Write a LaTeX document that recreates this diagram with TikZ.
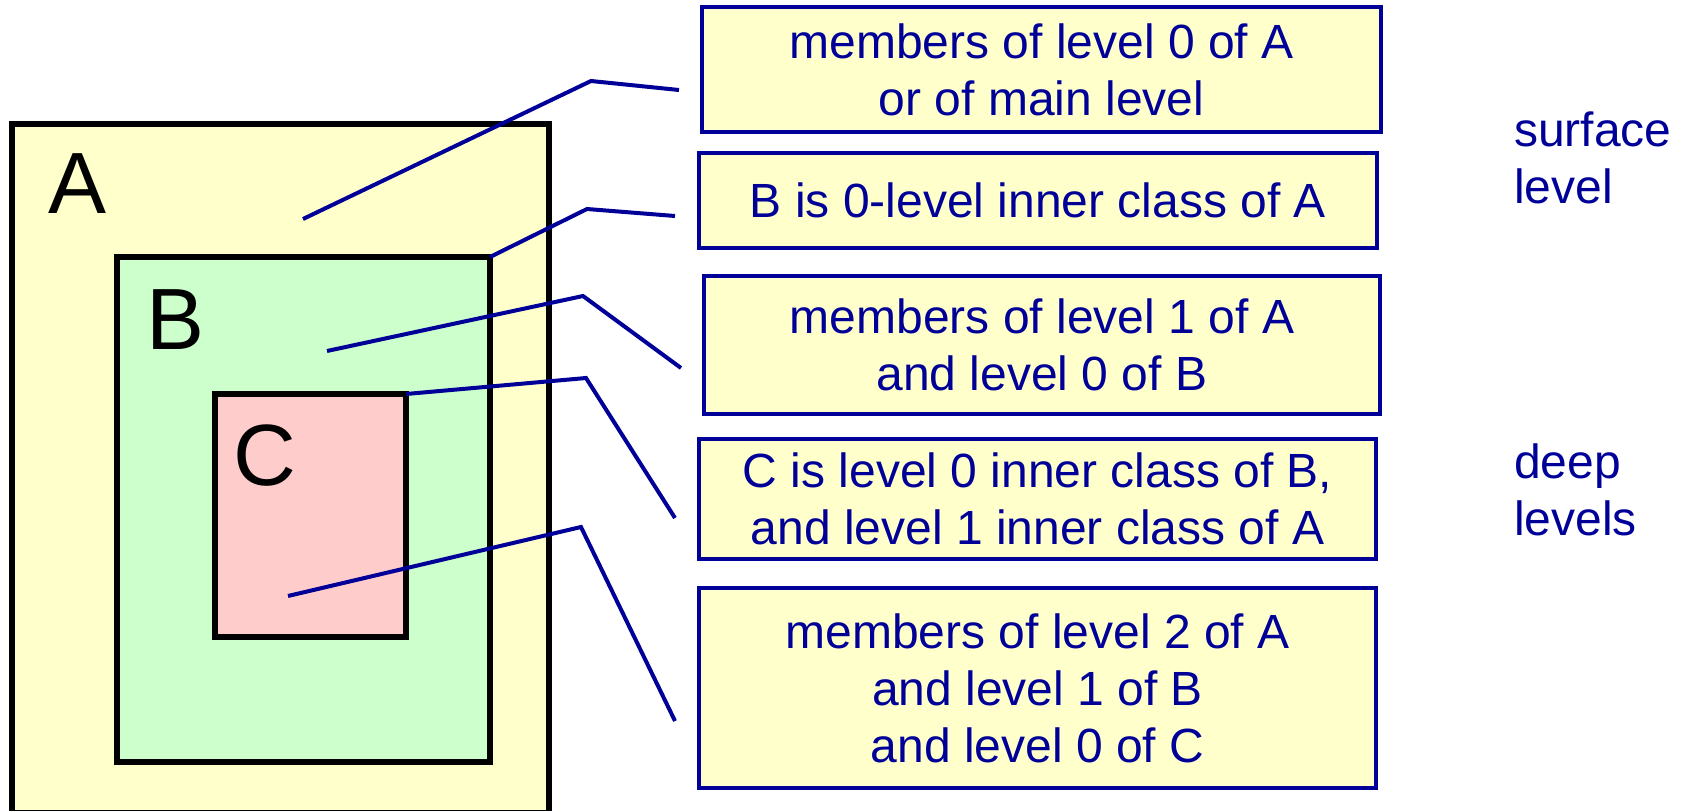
\documentclass[tikz,border=0pt]{standalone}
\usepackage{fontspec}
\setmainfont{Liberation Sans}
\definecolor{navy}{HTML}{000099}
\definecolor{paleyellow}{HTML}{FFFFCC}
\definecolor{palegreen}{HTML}{CCFFCC}
\definecolor{palepink}{HTML}{FFCCCC}

\begin{document}
\begin{tikzpicture}[x=1pt,y=-1pt]
\tikzstyle{region}=[draw,line width=6pt,inner sep=0,outer sep=0]
\tikzstyle{letter}=[inner sep=0,font=\fontsize{87}{87}\selectfont]
\tikzstyle{note}=[draw=navy,fill=paleyellow,line width=4pt,text=navy,align=center,inner sep=0,font=\fontsize{48}{57}\selectfont]
\tikzstyle{side}=[text=navy,align=left,anchor=west,inner sep=0,font=\fontsize{48}{57}\selectfont]
\tikzstyle{lead}=[draw=navy,line width=4pt]
\useasboundingbox (0,0) rectangle (1684,811);
% ========= nested classes
\node (A) at (280.5,468.5) [region,fill=paleyellow,minimum width=537pt,minimum height=689pt] {};
\node (B) at (303.5,509.5) [region,fill=palegreen,minimum width=373pt,minimum height=505pt] {};
\node (C) at (310.5,515.5) [region,fill=palepink,minimum width=191pt,minimum height=243pt] {};
\node (nameA) at (78,184) [letter] {A};
\node (nameB) at (176,320) [letter] {B};
\node (nameC) at (265,456) [letter] {C};
% ========= notes
\node (lvl0) at (1041.5,69.5) [note,minimum width=679pt,minimum height=125pt] {members of level 0 of A\\or of main level};
\node (innerB) at (1038,200.5) [note,minimum width=678pt,minimum height=95pt] {B is 0-level inner class of A};
\node (lvl1) at (1042,345) [note,minimum width=676pt,minimum height=138pt] {members of level 1 of A\\and level 0 of B};
\node (innerC) at (1037.5,499) [note,minimum width=677pt,minimum height=120pt] {C is level 0 inner class of B,\\and level 1 inner class of A};
\node (lvl2) at (1037.5,688) [note,minimum width=677pt,minimum height=200pt] {members of level 2 of A\\and level 1 of B\\and level 0 of C};
\node (surface) at (1514,158) [side] {surface\\level};
\node (deep) at (1514,490) [side] {deep\\levels};
% ====== leader lines
\coordinate (p0) at (303,219);
\coordinate (k0) at (591,81);
\coordinate (e0) at (679,90);
\coordinate (k1) at (587,209);
\coordinate (e1) at (675,216);
\coordinate (p2) at (327,351);
\coordinate (k2) at (583,296);
\coordinate (e2) at (681,368);
\coordinate (k3) at (586,378);
\coordinate (e3) at (675,518);
\coordinate (p4) at (288,596);
\coordinate (k4) at (581,527);
\coordinate (e4) at (675,721);
\draw [lead] (p0) -- (k0) -- (e0);
\draw [lead] (B.north east) -- (k1) -- (e1);
\draw [lead] (p2) -- (k2) -- (e2);
\draw [lead] (C.north east) -- (k3) -- (e3);
\draw [lead] (p4) -- (k4) -- (e4);
\end{tikzpicture}
\end{document}
